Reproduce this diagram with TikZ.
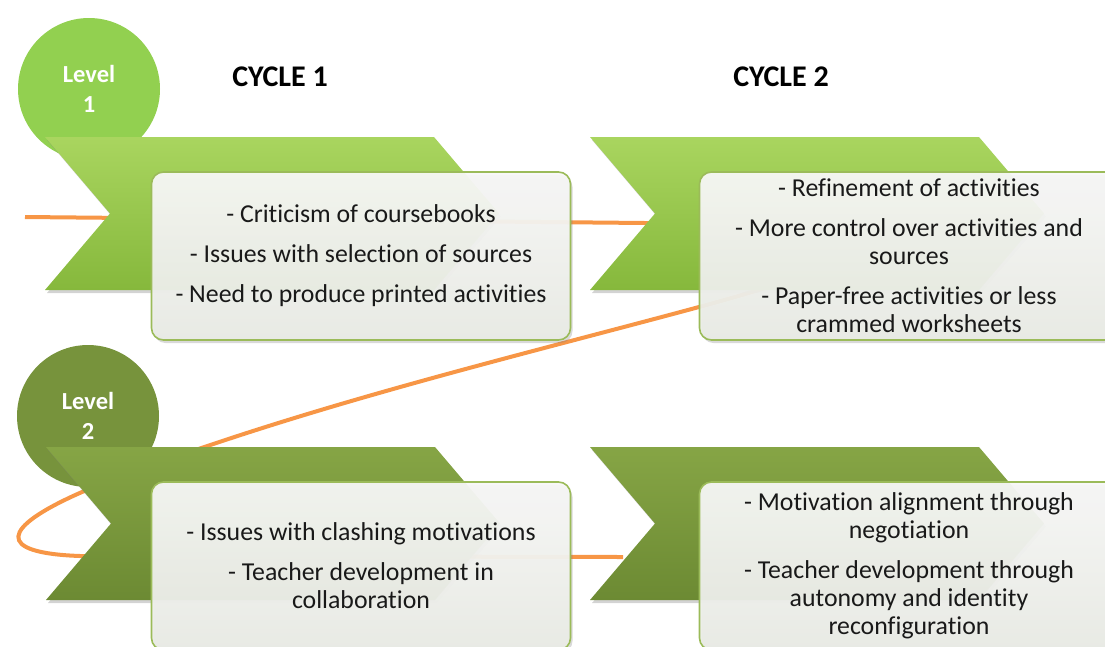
\documentclass[tikz,border=0pt]{standalone}
\usepackage{fontspec}
\setmainfont{Carlito}[RawFeature={-liga;-clig;-calt}]
\usetikzlibrary{shadows}
\definecolor{chevA1}{HTML}{A9D55F}
\definecolor{chevA2}{HTML}{86B83C}
\definecolor{chevB1}{HTML}{86A545}
\definecolor{chevB2}{HTML}{6C8A33}
\definecolor{lvlA}{HTML}{92D050}
\definecolor{lvlB}{HTML}{77933C}
\definecolor{trailcol}{HTML}{F79646}
\definecolor{boxline}{HTML}{9BBB59}
\definecolor{boxtop}{HTML}{F8F8F7}
\definecolor{boxbot}{HTML}{EAECE6}
\tikzset{
  lvl/.style={circle, minimum size=142pt, inner sep=0pt, text=white, align=center,
    font=\fontsize{24.5}{30}\selectfont\bfseries},
  cyclehead/.style={font=\fontsize{30}{36}\selectfont\bfseries, text=black},
  note/.style={rectangle, rounded corners=12pt, draw=boxline, line width=1.6pt,
    top color=boxtop, bottom color=boxbot, fill opacity=.94, text opacity=1,
    minimum width=419pt, minimum height=168pt, inner sep=0pt, align=center,
    text=black!90, font=\fontsize{25.8}{28}\selectfont,
    drop shadow={opacity=.3, shadow xshift=2pt, shadow yshift=-3pt}},
  trail/.style={draw=trailcol, line width=4pt}
}
\begin{document}
\begin{tikzpicture}[x=1pt, y=-1pt]
    \useasboundingbox (0,0) rectangle (1105,646);

    \coordinate (o1) at (25,217);
    \coordinate (o2) at (645,223);
    \coordinate (o3) at (699,307);
    \coordinate (o4) at (82,492);
    \coordinate (o5) at (80,556);
    \coordinate (o6) at (623,557);
    \draw[trail] (o1) -- (o2) .. controls +(255,5) and +(200,-54) .. (o3)
      .. controls +(-200,54) and +(200,-80) .. (o4)
      .. controls +(-82,36) and +(-85,-3) .. (o5) -- (o6);

    \node[lvl, fill=lvlA] (lev1) at (89,89) {Level\\1};
    \node[lvl, fill=lvlB] (lev2) at (88,416) {Level\\2};

    \node[cyclehead] (cyc1) at (280,77) {CYCLE 1};
    \node[cyclehead] (cyc2) at (781,77) {CYCLE 2};

    \foreach \x/\y/\col in {45/137/chevA, 590/137/chevA, 46/447/chevB, 590/447/chevB}
    \path[top color=\col1, bottom color=\col2, drop shadow={opacity=.35, shadow xshift=2pt, shadow yshift=-3pt}]
      (\x,\y) -- ++(389,0) -- ++(65,76.5) -- ++(-65,76.5) -- ++(-389,0) -- ++(65,-76.5) -- cycle;

    \node[note] (note11) at (361,256) {- Criticism of coursebooks\\[12pt]- Issues with selection of sources\\[12pt]- Need to produce printed activities};
    \node[note] (note12) at (909,256) {- Refinement of activities\\[12pt]- More control over activities and\\sources\\[12pt]- Paper-free activities or less\\crammed worksheets};
    \node[note] (note21) at (361,566) {- Issues with clashing motivations\\[12pt]- Teacher development in\\collaboration};
    \node[note] (note22) at (909,566) {- Motivation alignment through\\negotiation\\[12pt]- Teacher development through\\autonomy and identity\\reconfiguration};

  \end{tikzpicture}
\end{document}
